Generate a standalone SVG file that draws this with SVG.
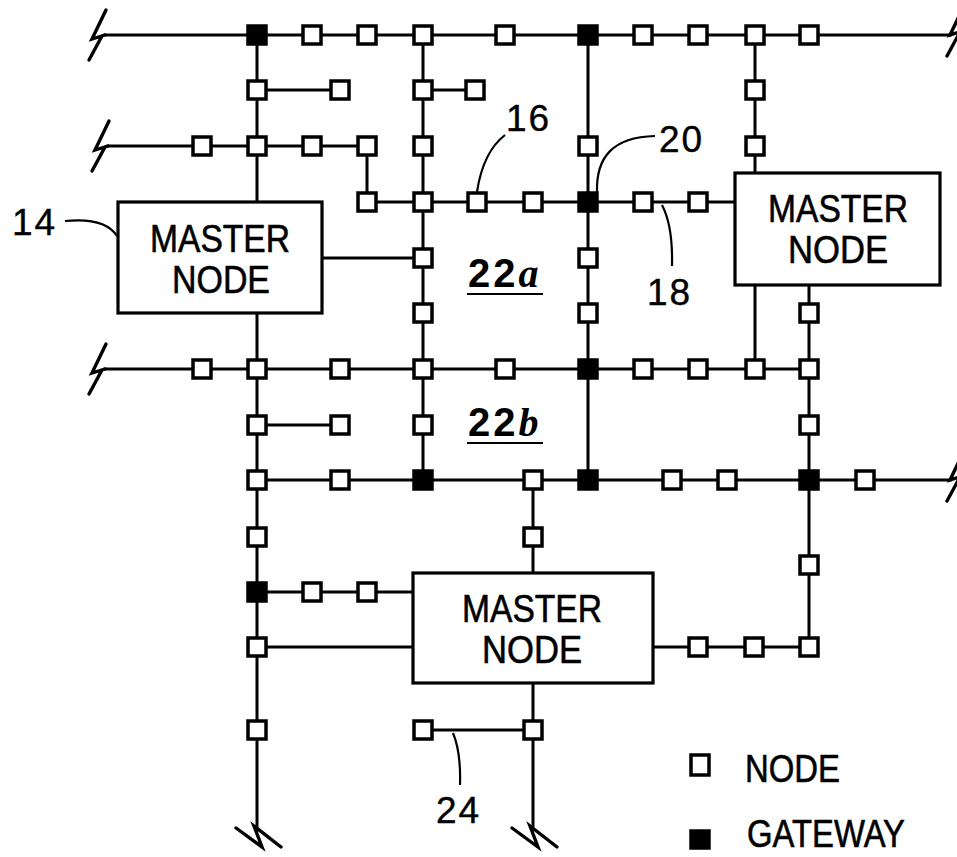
<svg xmlns="http://www.w3.org/2000/svg" width="957" height="857" viewBox="0 0 957 857">
<style>
.ln{stroke:#000;stroke-width:3;fill:none;stroke-linecap:square}
.ld{stroke:#000;stroke-width:2.2;fill:none}
.brk{stroke:#000;stroke-width:3.4;fill:none;stroke-linejoin:miter;stroke-linecap:round}
.box{fill:#fff;stroke:#000;stroke-width:3.2}
.n{fill:#fff;stroke:#000;stroke-width:3.5}
.g{fill:#000;stroke:#000;stroke-width:3.5}
.t{font-family:"Liberation Sans",Arial,sans-serif;font-size:38px;fill:#000;stroke:#000;stroke-width:0.6}
.num{font-family:"Liberation Sans",Arial,sans-serif;font-size:37px;fill:#000;letter-spacing:2px;stroke:#000;stroke-width:0.4}
.area{font-family:"Liberation Sans",Arial,sans-serif;font-size:40px;font-weight:bold;fill:#000;letter-spacing:3px}
.it{font-family:"Liberation Serif",serif;font-style:italic}
</style>
<defs>
<path id="bl" d="M1,-25 L-13,4 L0,0 M-3,1 L-16,25"/>
<path id="bb" d="M-21,2 L5,21 L-3,0 L24,21"/>
</defs>
<rect width="957" height="857" fill="#fff"/>

<g id="connectors">
<path class="ln" d="M105,35 H950 M257,90 H340 M423,90 H475 M108,146 H367 M367,202 H735 M322,258 H423 M105,369 H809 M257,425 H340 M257,480 H950 M257,592 H413 M257,647 H413 M653,647 H809 M423,730 H533"/>
<path class="ln" d="M257,35 V202 M257,313 V826 M367,146 V202 M423,35 V480 M588,35 V480 M755,35 V173 M755,285 V369 M809,285 V647 M533,480 V573 M533,683 V826"/>
<g id="breaks" class="brk">
<use href="#bl" x="105" y="35"/>
<use href="#bl" x="108" y="146"/>
<use href="#bl" x="105" y="369"/>
<use href="#bl" x="963" y="31"/>
<use href="#bl" x="963" y="476"/>
<use href="#bb" x="257" y="826"/>
<use href="#bb" x="533" y="826"/>
</g>
<g id="leaders">
<path class="ld" d="M65,221 Q105,217 117,236"/>
<path class="ld" d="M477,192 Q483,152 505,135"/>
<path class="ld" d="M597,192 C596,158 612,137 655,136"/>
<path class="ld" d="M662,205 Q673,226 672,266"/>
<path class="ld" d="M453,733 Q461,752 460,785"/>
</g>
</g>

<g id="master14">
<rect class="box" x="118" y="202" width="204" height="111"/>
<text class="t" x="220" y="252" text-anchor="middle" textLength="140" lengthAdjust="spacingAndGlyphs">MASTER</text>
<text class="t" x="221" y="293" text-anchor="middle" textLength="98" lengthAdjust="spacingAndGlyphs">NODE</text>
</g>
<g id="master2">
<rect class="box" x="735" y="173" width="205" height="112"/>
<text class="t" x="838" y="222" text-anchor="middle" textLength="140" lengthAdjust="spacingAndGlyphs">MASTER</text>
<text class="t" x="838" y="263" text-anchor="middle" textLength="100" lengthAdjust="spacingAndGlyphs">NODE</text>
</g>
<g id="master3">
<rect class="box" x="413" y="573" width="240" height="110"/>
<text class="t" x="532" y="622" text-anchor="middle" textLength="140" lengthAdjust="spacingAndGlyphs">MASTER</text>
<text class="t" x="532" y="663" text-anchor="middle" textLength="100" lengthAdjust="spacingAndGlyphs">NODE</text>
</g>

<g id="nodes">
<g id="r35">
<rect id="g-257-35" class="g" x="248" y="26" width="18" height="18"/>
<rect id="n-312-35" class="n" x="303" y="26" width="18" height="18"/>
<rect id="n-367-35" class="n" x="358" y="26" width="18" height="18"/>
<rect id="n-423-35" class="n" x="414" y="26" width="18" height="18"/>
<rect id="n-505-35" class="n" x="496" y="26" width="18" height="18"/>
<rect id="g-588-35" class="g" x="579" y="26" width="18" height="18"/>
<rect id="n-643-35" class="n" x="634" y="26" width="18" height="18"/>
<rect id="n-698-35" class="n" x="689" y="26" width="18" height="18"/>
<rect id="n-755-35" class="n" x="746" y="26" width="18" height="18"/>
<rect id="n-809-35" class="n" x="800" y="26" width="18" height="18"/>
</g>
<g id="r90">
<rect id="n-257-90" class="n" x="248" y="81" width="18" height="18"/>
<rect id="n-340-90" class="n" x="331" y="81" width="18" height="18"/>
<rect id="n-423-90" class="n" x="414" y="81" width="18" height="18"/>
<rect id="n-475-90" class="n" x="466" y="81" width="18" height="18"/>
<rect id="n-755-90" class="n" x="746" y="81" width="18" height="18"/>
</g>
<g id="r146">
<rect id="n-202-146" class="n" x="193" y="137" width="18" height="18"/>
<rect id="n-257-146" class="n" x="248" y="137" width="18" height="18"/>
<rect id="n-312-146" class="n" x="303" y="137" width="18" height="18"/>
<rect id="n-367-146" class="n" x="358" y="137" width="18" height="18"/>
<rect id="n-423-146" class="n" x="414" y="137" width="18" height="18"/>
<rect id="n-588-146" class="n" x="579" y="137" width="18" height="18"/>
<rect id="n-755-146" class="n" x="746" y="137" width="18" height="18"/>
</g>
<g id="r202">
<rect id="n-367-202" class="n" x="358" y="193" width="18" height="18"/>
<rect id="n-423-202" class="n" x="414" y="193" width="18" height="18"/>
<rect id="n-477-202" class="n" x="468" y="193" width="18" height="18"/>
<rect id="n-533-202" class="n" x="524" y="193" width="18" height="18"/>
<rect id="g-588-202" class="g" x="579" y="193" width="18" height="18"/>
<rect id="n-643-202" class="n" x="634" y="193" width="18" height="18"/>
<rect id="n-698-202" class="n" x="689" y="193" width="18" height="18"/>
</g>
<g id="r258">
<rect id="n-423-258" class="n" x="414" y="249" width="18" height="18"/>
<rect id="n-588-258" class="n" x="579" y="249" width="18" height="18"/>
</g>
<g id="r313">
<rect id="n-423-313" class="n" x="414" y="304" width="18" height="18"/>
<rect id="n-588-313" class="n" x="579" y="304" width="18" height="18"/>
<rect id="n-809-313" class="n" x="800" y="304" width="18" height="18"/>
</g>
<g id="r369">
<rect id="n-202-369" class="n" x="193" y="360" width="18" height="18"/>
<rect id="n-257-369" class="n" x="248" y="360" width="18" height="18"/>
<rect id="n-340-369" class="n" x="331" y="360" width="18" height="18"/>
<rect id="n-423-369" class="n" x="414" y="360" width="18" height="18"/>
<rect id="n-505-369" class="n" x="496" y="360" width="18" height="18"/>
<rect id="g-588-369" class="g" x="579" y="360" width="18" height="18"/>
<rect id="n-643-369" class="n" x="634" y="360" width="18" height="18"/>
<rect id="n-698-369" class="n" x="689" y="360" width="18" height="18"/>
<rect id="n-755-369" class="n" x="746" y="360" width="18" height="18"/>
<rect id="n-809-369" class="n" x="800" y="360" width="18" height="18"/>
</g>
<g id="r425">
<rect id="n-257-425" class="n" x="248" y="416" width="18" height="18"/>
<rect id="n-340-425" class="n" x="331" y="416" width="18" height="18"/>
<rect id="n-423-425" class="n" x="414" y="416" width="18" height="18"/>
<rect id="n-809-425" class="n" x="800" y="416" width="18" height="18"/>
</g>
<g id="r480">
<rect id="n-257-480" class="n" x="248" y="471" width="18" height="18"/>
<rect id="n-340-480" class="n" x="331" y="471" width="18" height="18"/>
<rect id="g-423-480" class="g" x="414" y="471" width="18" height="18"/>
<rect id="n-533-480" class="n" x="524" y="471" width="18" height="18"/>
<rect id="g-588-480" class="g" x="579" y="471" width="18" height="18"/>
<rect id="n-672-480" class="n" x="663" y="471" width="18" height="18"/>
<rect id="n-727-480" class="n" x="718" y="471" width="18" height="18"/>
<rect id="g-809-480" class="g" x="800" y="471" width="18" height="18"/>
<rect id="n-865-480" class="n" x="856" y="471" width="18" height="18"/>
</g>
<g id="r537">
<rect id="n-257-537" class="n" x="248" y="528" width="18" height="18"/>
<rect id="n-533-537" class="n" x="524" y="528" width="18" height="18"/>
<rect id="n-809-565" class="n" x="800" y="556" width="18" height="18"/>
</g>
<g id="r592">
<rect id="g-257-592" class="g" x="248" y="583" width="18" height="18"/>
<rect id="n-312-592" class="n" x="303" y="583" width="18" height="18"/>
<rect id="n-367-592" class="n" x="358" y="583" width="18" height="18"/>
</g>
<g id="r647">
<rect id="n-257-647" class="n" x="248" y="638" width="18" height="18"/>
<rect id="n-698-647" class="n" x="689" y="638" width="18" height="18"/>
<rect id="n-754-647" class="n" x="745" y="638" width="18" height="18"/>
<rect id="n-809-647" class="n" x="800" y="638" width="18" height="18"/>
</g>
<g id="r730">
<rect id="n-257-730" class="n" x="248" y="721" width="18" height="18"/>
<rect id="n-423-730" class="n" x="414" y="721" width="18" height="18"/>
<rect id="n-533-730" class="n" x="524" y="721" width="18" height="18"/>
</g>
</g>

<g id="labels">
<text class="num" x="12" y="235">14</text>
<text class="num" x="506" y="131">16</text>
<text class="num" x="659" y="152">20</text>
<text class="num" x="647" y="305">18</text>
<text class="num" x="436" y="823">24</text>
</g>
<g id="area22a">
<text class="area" x="468" y="287">22<tspan class="it">a</tspan></text>
<line class="ld" x1="467" y1="294" x2="543" y2="294" stroke-width="2.6"/>
</g>
<g id="area22b">
<text class="area" x="468" y="436">22<tspan class="it">b</tspan></text>
<line class="ld" x1="467" y1="443" x2="543" y2="443" stroke-width="2.6"/>
</g>

<g id="legend">
<rect class="n" x="691" y="755" width="18" height="20"/>
<text class="t" x="745" y="782" textLength="95" lengthAdjust="spacingAndGlyphs">NODE</text>
<rect class="g" x="691" y="831" width="18" height="17"/>
<text class="t" x="747" y="847" font-size="34" textLength="158" lengthAdjust="spacingAndGlyphs">GATEWAY</text>
</g>
</svg>
